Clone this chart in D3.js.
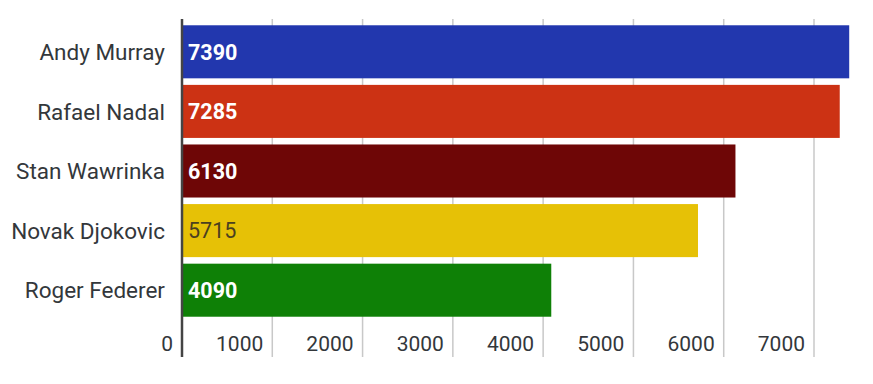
<!DOCTYPE html>
<html><head><meta charset="utf-8">
<script src="https://cdn.jsdelivr.net/npm/d3@7"></script>
<style>body{margin:0;background:#fff}svg{display:block}</style>
</head><body>
<svg id="c" width="873" height="384"></svg>
<script>
const categories = ["Andy Murray","Rafael Nadal","Stan Wawrinka","Novak Djokovic","Roger Federer"];
const values = [7390, 7285, 6130, 5715, 4090];
const colors = ["#2237ae","#cc3214","#6e0606","#e6c106","#0e8006"];
const labelColors = ["#fff","#fff","#fff","#4a4020","#fff"];
const labelWeights = ["bold","bold","bold","normal","bold"];
const ticks = [0,1000,2000,3000,4000,5000,6000,7000];

const svg = d3.select("#c");
const x = d3.scaleLinear().domain([0,7000]).range([182,814]);
const y = d3.scaleBand().domain(categories).range([22,320]).paddingInner(0.11).paddingOuter(0.055);
const font = "Roboto, 'Noto Sans', sans-serif";

// grid lines
svg.append("g").selectAll("line").data(ticks.slice(1)).join("line")
  .attr("x1", d=>x(d)).attr("x2", d=>x(d)).attr("y1",19).attr("y2",357)
  .attr("stroke","#c8c8c8").attr("stroke-width",1.5);

// bars
svg.append("g").selectAll("rect").data(values).join("rect")
  .attr("x", x(0)).attr("y",(d,i)=>y(categories[i]))
  .attr("width", d=>x(d)-x(0)).attr("height", y.bandwidth())
  .attr("fill",(d,i)=>colors[i]);

// value labels
svg.append("g").selectAll("text").data(values).join("text")
  .attr("x", x(0)+6).attr("y",(d,i)=>y(categories[i])+y.bandwidth()/2)
  .attr("dy","0.36em").text(d=>d)
  .attr("fill",(d,i)=>labelColors[i]).attr("font-weight",(d,i)=>labelWeights[i])
  .style("font-family",font).style("font-size","21.5px");

// category labels
svg.append("g").selectAll("text").data(categories).join("text")
  .attr("x",165).attr("y",d=>y(d)+y.bandwidth()/2).attr("dy","0.36em")
  .attr("text-anchor","end").text(d=>d)
  .attr("fill","#33373b")
  .style("font-family",font).style("font-size","22.5px");

// tick labels
svg.append("g").selectAll("text").data(ticks).join("text")
  .attr("x",d=>x(d)-9).attr("y",343).attr("dy","0.36em")
  .attr("text-anchor","end").text(d=>d)
  .attr("fill","#33373b").style("font-family",font).style("font-size","21px");

// zero axis line
svg.append("line").attr("x1",x(0)).attr("x2",x(0)).attr("y1",19).attr("y2",357)
  .attr("stroke","#444").attr("stroke-width",2.5);
</script>
</body></html>
